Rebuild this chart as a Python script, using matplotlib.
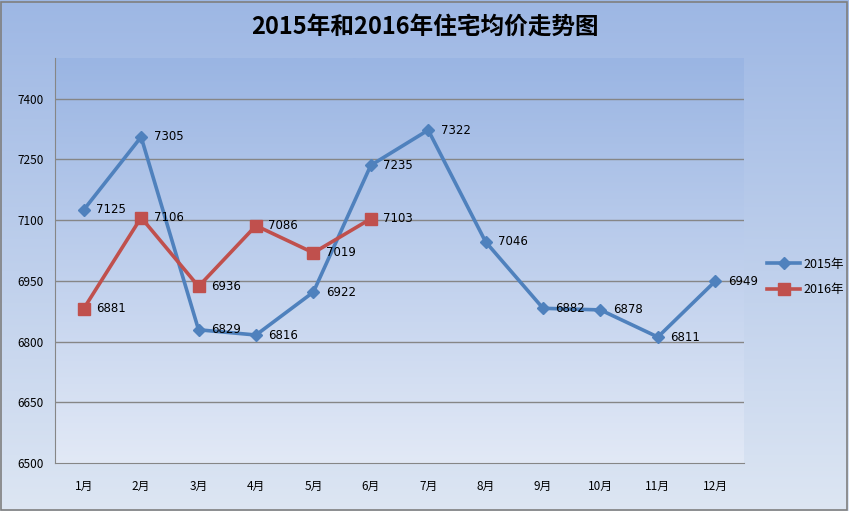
import numpy as np
import matplotlib
matplotlib.use('Agg')
import matplotlib.pyplot as plt

plt.rcParams['font.family'] = ['Noto Sans CJK SC', 'DejaVu Sans']

months = ['1月', '2月', '3月', '4月', '5月', '6月', '7月', '8月', '9月', '10月', '11月', '12月']
price_2015 = [7125, 7305, 6829, 6816, 6922, 7235, 7322, 7046, 6882, 6878, 6811, 6949]
price_2016 = [6881, 7106, 6936, 7086, 7019, 7103]
yticks = [6500, 6650, 6800, 6950, 7100, 7250, 7400]


def vgradient(top, bottom, n=256):
    '''Vertical colour gradient image, top row first.'''
    t = np.linspace(0, 1, n)[:, None]
    top = np.array(top) / 255.0
    bottom = np.array(bottom) / 255.0
    img = top[None, :] * (1 - t[..., None]) + bottom[None, :] * t[..., None]
    return img


W, H = 849, 511
fig = plt.figure(figsize=(W / 100, H / 100), dpi=100)

# figure background
bg = fig.add_axes([0, 0, 1, 1], zorder=-10)
bg.imshow(vgradient((157, 183, 228), (221, 230, 243)), aspect='auto', extent=[0, 1, 0, 1])
bg.set_xlim(0, 1)
bg.set_ylim(0, 1)
bg.axis('off')
bg.add_patch(plt.Rectangle((0.001, 0.002), 0.997, 0.995, fill=False, ec='#7f7f7f', lw=1.2))

# plot area
left, right, top, bottom = 55, 744, 58, 463
ax = fig.add_axes([left / W, 1 - bottom / H, (right - left) / W, (bottom - top) / H])
ax.set_xlim(0.5, 12.5)
ax.set_ylim(6500, 7500)
ax.imshow(vgradient((154, 181, 227), (226, 233, 246)), aspect='auto',
          extent=[0.5, 12.5, 6500, 7500], zorder=0)
ax.set_facecolor('none')

for y in yticks[1:]:
    ax.axhline(y, color='#868686', lw=1.0, zorder=1)

x15 = np.arange(1, len(price_2015) + 1)
x16 = np.arange(1, len(price_2016) + 1)
ax.plot(x15, price_2015, color='#4F81BD', lw=2.6, marker='D', ms=6.5, zorder=3, label='2015年')
ax.plot(x16, price_2016, color='#C0504D', lw=2.6, marker='s', ms=8.5, zorder=4, label='2016年')

for x, v in zip(x15, price_2015):
    ax.annotate(str(v), (x, v), xytext=(9, 0), textcoords='offset points',
                va='center', ha='left', fontsize=8.5, family='DejaVu Sans', zorder=5)
for x, v in zip(x16, price_2016):
    ax.annotate(str(v), (x, v), xytext=(9, 0), textcoords='offset points',
                va='center', ha='left', fontsize=8.5, family='DejaVu Sans', zorder=5)

ax.set_xticks(x15)
ax.set_xticklabels(months, fontsize=8.5)
ax.set_yticks(yticks)
ax.set_yticklabels([str(v) for v in yticks], fontsize=8.5)
ax.tick_params(length=0, pad=12)
ax.tick_params(axis='y', pad=8)
for s in ['top', 'right']:
    ax.spines[s].set_visible(False)
ax.spines['left'].set_color('#868686')
ax.spines['bottom'].set_color('#868686')

fig.text(425 / W, 1 - 27 / H, '2015年和2016年住宅均价走势图', ha='center', va='center',
         fontsize=17, fontweight='heavy')

leg = fig.legend(loc='center left', bbox_to_anchor=(756 / W, 1 - 277 / H), frameon=False,
                 fontsize=9, handlelength=2.6, labelspacing=1.0, handletextpad=0.3)

fig.savefig('out.png', dpi=100)
